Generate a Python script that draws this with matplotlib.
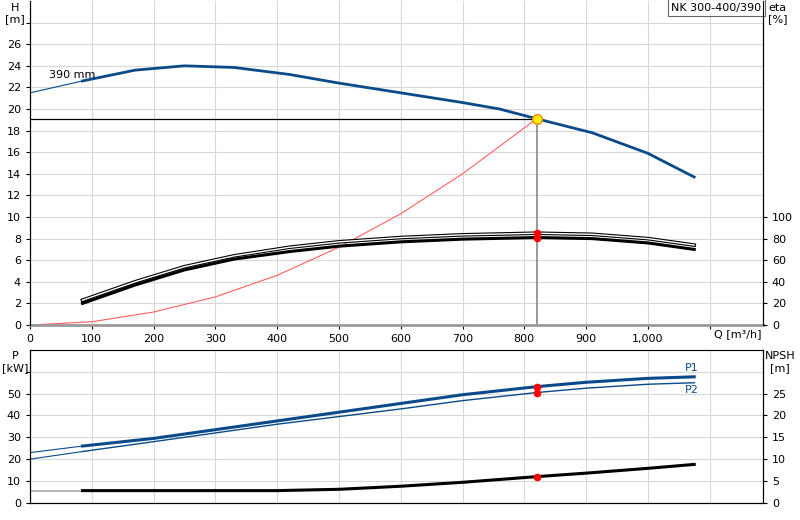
import matplotlib
matplotlib.use("Agg")
import matplotlib.pyplot as plt

q_ext = [0, 85]
h_ext = [21.5, 22.6]
q_h = [85, 170, 250, 330, 420, 500, 600, 700, 760, 820, 910, 1000, 1075]
h = [22.6, 23.6, 24.0, 23.85, 23.2, 22.4, 21.5, 20.6, 20.0, 19.1, 17.8, 15.9, 13.7]
q_sys = [0, 100, 200, 300, 400, 500, 600, 700, 820]
h_sys = [0, 0.3, 1.2, 2.6, 4.6, 7.2, 10.3, 14.0, 19.1]
q_eta = [85, 170, 250, 330, 420, 500, 600, 700, 820, 910, 1000, 1075]
eta1 = [23, 40, 54, 64, 72, 77, 81, 83.5, 85, 84, 80, 74]
eta2 = [20, 37, 51, 61, 68, 73, 77, 79.5, 81, 80, 76, 70]
q_p = [0, 85, 200, 300, 400, 500, 600, 700, 820, 900, 1000, 1075]
p1 = [23, 26, 29.5, 33.5, 37.5, 41.5, 45.5, 49.5, 53.2, 55.2, 57, 57.7]
p2 = [20, 23.5, 28, 32, 36, 39.5, 43, 46.8, 50.5, 52.5, 54.3, 55]
npsh = [2.8, 2.8, 2.8, 2.8, 2.8, 3.1, 3.8, 4.7, 6.0, 6.8, 7.9, 8.8]
q_op, h_op = 820, 19.1
eta_op = [85, 81]
p_op = [53.2, 50.5]
npsh_op = 6.0
xticks = [0, 100, 200, 300, 400, 500, 600, 700, 800, 900, 1000]
xlabels = ["0", "100", "200", "300", "400", "500", "600", "700", "800", "900", "1,000"]

BLUE = "#0b4a8a"
GRID = "#d8d8d8"
plt.rcParams["font.family"] = ["DejaVu Sans"]
plt.rcParams["font.size"] = 8

fig = plt.figure(figsize=(8, 5.2), dpi=100)
ax = fig.add_axes([0.0375, 0.375, 0.916, 0.623])
ax.set_xlim(0, 1186)
ax.set_ylim(0, 30)
ax.set_xticks(range(0, 1200, 100))
ax.set_xticklabels(xlabels + [""])
ax.set_yticks(range(0, 30, 2))
ax.set_yticklabels([str(v) for v in range(0, 28, 2)] + [""])
ax.grid(True, color=GRID, lw=0.8)
ax.set_axisbelow(True)
ax.spines["top"].set_visible(False)
ax.spines["bottom"].set_color("#999999")
ax.spines["bottom"].set_linewidth(2)
ax.tick_params(length=3)

ax.plot(q_ext, h_ext, color=BLUE, lw=0.8)
ax.plot(q_h, h, color=BLUE, lw=2)
ax.plot(q_sys, h_sys, color="#ff6060", lw=0.8)
ax.plot([0, q_op], [h_op, h_op], color="black", lw=0.9)
ax.plot([q_op, q_op], [0, h_op], color="#888888", lw=1.2)
ax.text(30, 22.9, "390 mm", fontsize=8)

ax2 = ax.twinx()
ax2.set_ylim(0, 300)
ax2.set_yticks(range(0, 101, 20))
ax2.tick_params(length=3)
ax2.spines["top"].set_visible(False)
ax2.spines["bottom"].set_visible(False)
ax2.plot(q_eta, eta1, color="black", lw=2.6)
ax2.plot(q_eta, eta1, color="white", lw=1)
ax2.plot(q_eta, eta2, color="black", lw=2.2)
ax2.plot([q_op] * 2, eta_op, "o", color="red", ms=4.5)
ax2.plot([q_op], [h_op * 10], "o", color="#ffee00", mec="#ff8800", ms=7, mew=1, zorder=5)

fig.text(0.019, 0.995, "H\n[m]", ha="center", va="top", fontsize=8)
fig.text(0.972, 0.995, "eta\n[%]", ha="center", va="top", fontsize=8)
fig.text(0.952, 0.357, "Q [m³/h]", ha="right", va="center", fontsize=8)
ax.text(0.998, 0.995, "NK 300-400/390", transform=ax.transAxes, ha="right", va="top",
        fontsize=8, bbox=dict(boxstyle="square,pad=0.3", fc="white", ec="#666666", lw=0.8))

bx = fig.add_axes([0.0375, 0.033, 0.916, 0.294])
bx.set_xlim(0, 1186)
bx.set_ylim(0, 70)
bx.set_xticks(range(0, 1200, 100))
bx.set_xticklabels([])
bx.tick_params(axis="x", length=0)
bx.set_yticks(range(0, 70, 10))
bx.set_yticklabels([str(v) for v in range(0, 60, 10)] + [""])
bx.tick_params(axis="y", length=3)
bx.grid(True, color=GRID, lw=0.8)
bx.set_axisbelow(True)
bx.spines["top"].set_color("#999999")
bx.plot(q_p[:2], p1[:2], color=BLUE, lw=0.8)
bx.plot(q_p[1:], p1[1:], color=BLUE, lw=2.2)
bx.plot(q_p[:2], p2[:2], color=BLUE, lw=0.8)
bx.plot(q_p[1:], p2[1:], color=BLUE, lw=1)
bx.plot([q_op] * 2, p_op, "o", color="red", ms=4.5)
bx.text(1060, p1[-1] + 2.5, "P1", color=BLUE, fontsize=8)
bx.text(1060, p2[-1] - 4.5, "P2", color=BLUE, fontsize=8)

bx2 = bx.twinx()
bx2.set_ylim(0, 35)
bx2.set_yticks(range(0, 30, 5))
bx2.tick_params(length=3)
bx2.plot(q_p[:2], npsh[:2], color="#aaaaaa", lw=1.2)
bx2.plot(q_p[1:], npsh[1:], color="black", lw=2.2)
bx2.plot([q_op], [npsh_op], "o", color="red", ms=4.5)
fig.text(0.019, 0.325, "P\n[kW]", ha="center", va="top", fontsize=8)
fig.text(0.975, 0.325, "NPSH\n[m]", ha="center", va="top", fontsize=8)

fig.savefig("out.png", dpi=100)
